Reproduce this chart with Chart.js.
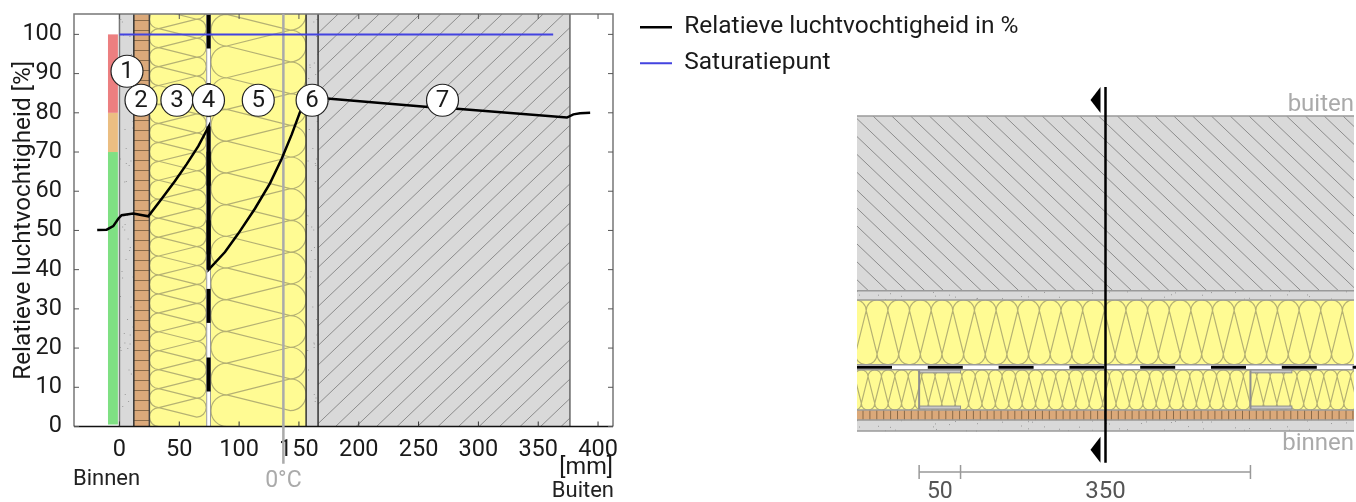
<!DOCTYPE html>
<html>
<head>
<meta charset="utf-8">
<title>Relatieve luchtvochtigheid</title>
<script src="https://cdn.jsdelivr.net/npm/chart.js@4"></script>
<style>
    html, body { margin: 0; padding: 0; background: #fff; overflow: hidden; }
    canvas { position: absolute; top: 0; }
    #wallChart { left: 0; }
    #sectionChart { left: 840px; }
</style>
</head>
<body>
<canvas id="wallChart" width="1100" height="502"></canvas>
<canvas id="sectionChart" width="516" height="502"></canvas>
<script>
const xTicks = [0, 50, 100, 150, 200, 250, 300, 350, 400];
const yTicks = [0, 10, 20, 30, 40, 50, 60, 70, 80, 90, 100];

const rhX = [-18.6, -10.7, -5.2, -1, 1.8, 11.5, 24.1, 35.3, 46.4, 56.2, 65.9, 74.6, 74.6, 88.2, 99.3, 113.3, 125.8, 135.6, 144, 150.9, 160, 176, 258, 284.7, 374, 379.4, 385, 393.4];
const rhY = [50.1, 50.2, 51.1, 53, 53.9, 54.3, 53.6, 58.1, 62.6, 66.9, 71.5, 76.5, 40, 44.5, 49.2, 55.6, 62, 68.3, 74.5, 80.2, 84, 83.6, 81.5, 81, 78.8, 79.6, 79.9, 80];
const satX = [0, 362.5];
const satY = [100, 100];
const zeroX = [137, 137];
const zeroY = [105.2, -9.5];

const markerX = [6.3, 18, 48, 74.4, 116, 161, 270];
const markerY = [90.6, 83.2, 83.2, 83.2, 83.2, 83.2, 83.2];
const markerLabels = ['1', '2', '3', '4', '5', '6', '7'];

// wall layers in mm: plaster, brick, insulation, membrane, insulation, plaster, concrete
const layerEdges = [0, 12, 25, 72.5, 76.5, 156, 166, 376.5];
const sectionEdges = [0, 13, 25, 73, 79, 156.5, 167.5, 376];
const bandEdges = [0.5, 70, 80, 100];
const bandColors = ['#7FE083', '#EBBE82', '#EC7F80'];

const studX = [0, 400];
const dimX = [0, 50, 400];
const dimLabels = ['50', '350'];
const cutX = [225, 225];
const cutY = [410.5, -38];

const FONT = 'Roboto, sans-serif';
const yellow = '#FFFB93';
const wool = '#B5B173';
const plaster = '#D9D9D9';
const brick = '#DBA97A';

// a = across the layer, b = along it, section swaps them with a transform
function wool3(ctx, a0, a1, b0, b1) {
    const p = (a1 - a0) / 3;
    const r = p / 2;
    const cl = a0 + r;
    const cr = a1 - r;
    ctx.strokeStyle = wool;
    ctx.lineWidth = 1.2;
    ctx.beginPath();
    for (let b = b1; b > b0 - 2 * p; b -= p) {
        ctx.moveTo(cl, b);
        ctx.arc(cl, b - r, r, Math.PI / 2, -Math.PI / 2, false);
        ctx.lineTo(cr, b - p / 2);
        ctx.arc(cr, b - p, r, Math.PI / 2, -Math.PI / 2, true);
        ctx.lineTo(cl, b - p);
    }
    ctx.stroke();
}

function hatch(ctx, x0, y0, x1, y1, step, dir) {
    const h = y1 - y0;
    ctx.save();
    ctx.beginPath();
    ctx.rect(x0, y0, x1 - x0, h);
    ctx.clip();
    ctx.strokeStyle = '#8C8C8C';
    ctx.lineWidth = 1;
    ctx.beginPath();
    for (let x = x0 - h * 1.2; x < x1 + h * 1.2; x += step) {
        ctx.moveTo(x, dir > 0 ? y1 : y0);
        ctx.lineTo(x + h * 1.05, dir > 0 ? y0 : y1);
    }
    ctx.stroke();
    ctx.restore();
}

function speckle(ctx, x0, y0, x1, y1) {
    ctx.fillStyle = '#9A9A9A';
    const w = x1 - x0;
    const h = y1 - y0;
    for (let i = 0; i < (w * h) / 110; i++) {
        ctx.fillRect(x0 + (i * 37 + (i * i) % 23) % w, y0 + (i * 61 + (i * i * 3) % 47) % h, 1, 1);
    }
}

function vline(ctx, x, y0, y1, color, width) {
    ctx.strokeStyle = color;
    ctx.lineWidth = width;
    ctx.beginPath();
    ctx.moveTo(x, y0);
    ctx.lineTo(x, y1);
    ctx.stroke();
}

function hline(ctx, x0, x1, y, color, width) {
    ctx.strokeStyle = color;
    ctx.lineWidth = width;
    ctx.beginPath();
    ctx.moveTo(x0, y);
    ctx.lineTo(x1, y);
    ctx.stroke();
}

function label(ctx, text, x, y, size, color, align) {
    ctx.font = size + 'px ' + FONT;
    ctx.fillStyle = color;
    ctx.textAlign = align || 'center';
    ctx.textBaseline = 'middle';
    ctx.fillText(text, x, y);
}

const wallPlugin = {
    id: 'wallPlugin',
    afterLayout(chart) {
        // legend sits apart from the plot, right edge also widens its clip
        chart.legend.left = 628.5;
        chart.legend.right = 1095;
        chart.legend.top = 3.5;
    },
    beforeDatasetsDraw(chart) {
        const { ctx, chartArea: a, scales: { x, y } } = chart;
        const px = layerEdges.map(v => x.getPixelForValue(v));
        const t = a.top;
        const b = a.bottom;
        ctx.save();

        // comfort band
        bandColors.forEach((c, i) => {
            ctx.fillStyle = c;
            const top = y.getPixelForValue(bandEdges[i + 1]);
            ctx.fillRect(x.getPixelForValue(-9.6), top, x.getPixelForValue(-1.3) - x.getPixelForValue(-9.6), y.getPixelForValue(bandEdges[i]) - top);
        });

        // plaster
        ctx.fillStyle = plaster;
        ctx.fillRect(px[0], t, px[1] - px[0], b - t);
        ctx.fillRect(px[5], t, px[6] - px[5], b - t);
        speckle(ctx, px[0], t, px[1], b);
        speckle(ctx, px[5], t, px[6], b);

        // brick
        ctx.fillStyle = brick;
        ctx.fillRect(px[1], t, px[2] - px[1], b - t);
        for (let yy = b - 6; yy > t; yy -= 10) {
            hline(ctx, px[1], px[2], yy, '#8A6A48', 1);
        }

        // insulation
        [[2, 3], [4, 5]].forEach(([i, j]) => {
            ctx.fillStyle = yellow;
            ctx.fillRect(px[i], t, px[j] - px[i], b - t);
            ctx.save();
            ctx.beginPath();
            ctx.rect(px[i], t, px[j] - px[i], b - t);
            ctx.clip();
            wool3(ctx, px[i], px[j], t, b);
            ctx.restore();
        });

        // membrane
        ctx.fillStyle = '#fff';
        ctx.fillRect(px[3], t, px[4] - px[3], b - t);
        vline(ctx, px[3] + 0.5, t, b, '#999', 1);
        vline(ctx, px[4] - 0.5, t, b, '#999', 1);
        const mid = (px[3] + px[4]) / 2;
        for (let yy = b - 35; yy > t - 34; yy -= 68.6) {
            vline(ctx, mid, Math.max(yy - 34, t), yy, '#000', 4);
        }
        vline(ctx, mid, y.getPixelForValue(76.5), y.getPixelForValue(40), '#000', 4);

        // concrete
        ctx.fillStyle = plaster;
        ctx.fillRect(px[6], t, px[7] - px[6], b - t);
        hatch(ctx, px[6], t, px[7], b, 20.5, 1);

        [[1, '#333', 1.5], [2, '#444', 1.5], [5, '#333', 1.5], [6, '#333', 1.5], [0, '#777', 1.5], [7, '#666', 1.5]].forEach(([i, c, w]) => {
            vline(ctx, px[i], t, b, c, w);
        });

        // frame and inward ticks
        ctx.strokeStyle = '#777';
        ctx.lineWidth = 1.5;
        ctx.beginPath();
        ctx.moveTo(a.left, b);
        ctx.lineTo(a.left, t);
        ctx.lineTo(a.right, t);
        ctx.lineTo(a.right, b);
        ctx.stroke();
        hline(ctx, a.left, a.right, b, '#111', 1.5);
        xTicks.forEach(v => {
            const p = x.getPixelForValue(v);
            vline(ctx, p, t, t + 5, '#555', 1);
            vline(ctx, p, b, b - 5, '#333', 1);
        });
        yTicks.forEach(v => {
            const p = y.getPixelForValue(v);
            hline(ctx, a.left, a.left + 5, p, '#555', 1);
            hline(ctx, a.right, a.right - 5, p, '#555', 1);
        });
        ctx.restore();
    },
    afterDatasetsDraw(chart) {
        const { ctx, scales: { x } } = chart;
        const dots = chart.getDatasetMeta(3).data;
        ctx.save();
        dots.forEach((d, i) => label(ctx, markerLabels[i], d.x, d.y + 1, 24, '#1a1a1a'));
        label(ctx, 'Binnen', 73, 479, 22, '#222', 'left');
        label(ctx, 'Buiten', 614, 491, 22, '#222', 'right');
        label(ctx, '0°C', x.getPixelForValue(137), 481, 23, '#AAAAAA');
        ctx.restore();
    }
};

const sectionPlugin = {
    id: 'sectionPlugin',
    beforeDatasetsDraw(chart) {
        const { ctx, chartArea: a, scales: { x, y } } = chart;
        const py = sectionEdges.map(v => y.getPixelForValue(v));
        const l = a.left;
        const r = a.right;
        ctx.save();

        ctx.fillStyle = plaster;
        ctx.fillRect(l, py[1], r - l, py[0] - py[1]);
        ctx.fillRect(l, py[6], r - l, py[5] - py[6]);
        speckle(ctx, l, py[1], r, py[0]);
        speckle(ctx, l, py[6], r, py[5]);

        ctx.fillStyle = brick;
        ctx.fillRect(l, py[2], r - l, py[1] - py[2]);
        for (let xx = l + 6; xx < r; xx += 6.9) {
            vline(ctx, xx, py[2], py[1], '#8A6A48', 1);
        }

        [[2, 3], [4, 5]].forEach(([i, j]) => {
            ctx.fillStyle = yellow;
            ctx.fillRect(l, py[j], r - l, py[i] - py[j]);
            ctx.save();
            ctx.beginPath();
            ctx.rect(l, py[j], r - l, py[i] - py[j]);
            ctx.clip();
            ctx.transform(0, 1, 1, 0, 0, 0);
            wool3(ctx, py[j], py[i], l, r + 10);
            ctx.restore();
        });

        ctx.fillStyle = '#fff';
        ctx.fillRect(l, py[4], r - l, py[3] - py[4]);
        const mid = (py[3] + py[4]) / 2;
        for (let xx = l; xx < r; xx += 70.8) {
            hline(ctx, xx, xx + 35, mid, '#000', 3);
        }

        // steel studs
        studX.forEach(v => {
            const s0 = x.getPixelForValue(v);
            const s1 = x.getPixelForValue(v + 50);
            ctx.fillStyle = '#C8C8C8';
            ctx.strokeStyle = '#8E8E8E';
            ctx.lineWidth = 1;
            ctx.fillRect(s0, py[3], s1 - s0, 3);
            ctx.fillRect(s0, py[2] - 4, s1 - s0, 3);
            ctx.strokeRect(s0, py[3], s1 - s0, 3);
            ctx.strokeRect(s0, py[2] - 4, s1 - s0, 3);
            vline(ctx, s0, py[3], py[2] - 1, '#8E8E8E', 2);
        });

        ctx.fillStyle = plaster;
        ctx.fillRect(l, py[7], r - l, py[6] - py[7]);
        hatch(ctx, l, py[7], r, py[6], 18.8, -1);

        py.forEach(p => hline(ctx, l, r, p, '#9A9A9A', 1.5));
        ctx.restore();
    },
    afterDatasetsDraw(chart) {
        const { ctx, scales: { x, y } } = chart;
        const cx = x.getPixelForValue(cutX[0]);
        ctx.save();

        // cut markers at both line ends
        [cutY[0], cutY[1]].forEach(v => {
            const p = y.getPixelForValue(v);
            const m = v > 0 ? p + 13 : p - 13;
            ctx.fillStyle = '#000';
            ctx.beginPath();
            ctx.moveTo(cx - 15, m);
            ctx.lineTo(cx - 5, m - 13);
            ctx.lineTo(cx - 5, m + 13);
            ctx.closePath();
            ctx.fill();
        });

        // dimensions
        const dimY = 472;
        const d = dimX.map(v => x.getPixelForValue(v));
        hline(ctx, d[0], d[2], dimY, '#999', 1.5);
        d.forEach(p => vline(ctx, p, dimY - 7, dimY + 7, '#999', 1.5));
        label(ctx, dimLabels[0], (d[0] + d[1]) / 2, 492, 23, '#555');
        label(ctx, dimLabels[1], (d[1] + d[2]) / 2, 492, 24, '#555');
        label(ctx, 'buiten', 514, 105, 24, '#AAAAAA', 'right');
        label(ctx, 'binnen', 514, 444, 24, '#AAAAAA', 'right');
        ctx.restore();
    }
};

function points(xs, ys) {
    return xs.map((v, i) => ({ x: v, y: ys[i] }));
}

window.onload = function() {
    new Chart(document.getElementById('wallChart').getContext('2d'), {
        type: 'scatter',
        data: {
            datasets: [{
                label: 'Relatieve luchtvochtigheid in %',
                data: points(rhX, rhY),
                showLine: true,
                borderColor: '#000',
                backgroundColor: '#000',
                borderWidth: 2.5,
                pointRadius: 0,
                tension: 0,
                order: 1
            }, {
                label: 'Saturatiepunt',
                data: points(satX, satY),
                showLine: true,
                borderColor: '#4343E0',
                backgroundColor: '#4343E0',
                borderWidth: 2,
                pointRadius: 0,
                order: 2
            }, {
                label: '0°C',
                data: points(zeroX, zeroY),
                showLine: true,
                borderColor: '#AAAAAA',
                borderWidth: 2.5,
                pointRadius: 0,
                clip: false,
                order: 3
            }, {
                label: 'Lagen',
                data: points(markerX, markerY),
                pointRadius: 16,
                pointBackgroundColor: '#fff',
                pointBorderColor: '#222',
                pointBorderWidth: 1.2,
                order: 0
            }]
        },
        options: {
            responsive: false,
            animation: false,
            layout: { autoPadding: false, padding: { top: 14, right: 107, left: 0, bottom: 0 } },
            plugins: {
                tooltip: { enabled: false },
                legend: {
                    position: 'right',
                    align: 'start',
                    maxWidth: 380,
                    labels: {
                        filter: item => item.datasetIndex < 2,
                        boxWidth: 32,
                        boxHeight: 0,
                        padding: 11.5,
                        color: '#1a1a1a',
                        font: { family: FONT, size: 24.5 }
                    }
                }
            },
            scales: {
                x: {
                    type: 'linear',
                    min: -38,
                    max: 412.5,
                    afterBuildTicks: s => { s.ticks = xTicks.map(v => ({ value: v })); },
                    afterFit: s => { s.height = 75.5; },
                    border: { display: false },
                    grid: { display: false },
                    ticks: {
                        autoSkip: false,
                        maxRotation: 0,
                        padding: 2,
                        color: '#1a1a1a',
                        font: { family: FONT, size: 23.5 }
                    },
                    title: {
                        display: true,
                        text: '[mm]',
                        align: 'end',
                        color: '#1a1a1a',
                        padding: { top: 0, bottom: 20 },
                        font: { family: FONT, size: 23.5 }
                    }
                },
                y: {
                    min: 0,
                    max: 105.2,
                    afterBuildTicks: s => { s.ticks = yTicks.map(v => ({ value: v })); },
                    afterFit: s => {
                        s.width = 74;
                        s.paddingTop = 0;
                        s.paddingBottom = 0;
                    },
                    border: { display: false },
                    grid: { display: false },
                    ticks: {
                        autoSkip: false,
                        padding: 4,
                        color: '#1a1a1a',
                        font: { family: FONT, size: 23.5 }
                    },
                    title: {
                        display: true,
                        text: 'Relatieve luchtvochtigheid [%]',
                        color: '#1a1a1a',
                        padding: { top: 9, bottom: 0 },
                        font: { family: FONT, size: 24.3 }
                    }
                }
            }
        },
        plugins: [wallPlugin]
    });

    new Chart(document.getElementById('sectionChart').getContext('2d'), {
        type: 'scatter',
        data: {
            datasets: [{
                label: 'Snede',
                data: points(cutX, cutY),
                showLine: true,
                borderColor: '#000',
                borderWidth: 2.5,
                pointRadius: 0,
                clip: false
            }]
        },
        options: {
            responsive: false,
            animation: false,
            layout: { autoPadding: false, padding: { top: 116, right: 2, left: 17, bottom: 71 } },
            plugins: { legend: { display: false }, tooltip: { enabled: false } },
            scales: {
                x: { type: 'linear', min: -75, max: 525, display: false },
                y: { min: 0, max: 376, display: false }
            }
        },
        plugins: [sectionPlugin]
    });
};
</script>
</body>
</html>
